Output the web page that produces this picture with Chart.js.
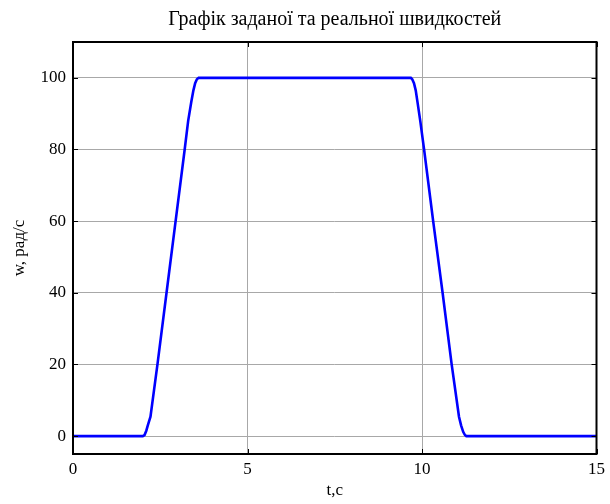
<!DOCTYPE html>
<html>
<head>
<meta charset="utf-8">
<script src="https://cdn.jsdelivr.net/npm/chart.js@4/dist/chart.umd.min.js"></script>
<style>
  html, body { margin: 0; padding: 0; background: #fff; }
  #wrap { width: 610px; height: 504px; }
</style>
</head>
<body>
<div id="wrap"><canvas id="chart" width="610" height="504"></canvas></div>
<script>
'use strict';

const timeValues  = [0, 1, 2.0, 2.05, 2.1, 2.15, 2.22, 2.42, 2.68, 2.94, 3.2, 3.3, 3.39, 3.45, 3.5, 3.55, 3.6,
                     5, 7, 9, 9.68, 9.72, 9.77, 9.82, 9.87, 9.95, 10.06, 10.32, 10.59, 10.85, 11.06, 11.12, 11.18, 11.23, 11.27, 12, 15];
const speedValues = [0, 0, 0, 0.3, 1.5, 3.2, 5.4, 20, 40, 60, 80, 88, 93.3, 96.5, 98.5, 99.6, 100,
                     100, 100, 100, 100, 99.6, 98.5, 96.5, 93.3, 88, 80, 60, 40, 20, 5.4, 3, 1.2, 0.3, 0, 0, 0];
const xTicks = [0, 5, 10, 15];
const yTicks = [0, 20, 40, 60, 80, 100];

const serif = "'Liberation Serif', 'Times New Roman', serif";

// MATLAB-style box with inward ticks on every side
const boxPlugin = {
  id: 'box',
  afterDraw(chart) {
    const ctx = chart.ctx;
    const a = chart.chartArea;
    const xs = chart.scales.x;
    const ys = chart.scales.y;
    const len = 5;
    ctx.save();
    ctx.strokeStyle = '#000';
    ctx.lineWidth = 1;
    ctx.beginPath();
    xTicks.forEach(v => {
      const px = Math.round(xs.getPixelForValue(v)) + 0.5;
      ctx.moveTo(px, a.bottom); ctx.lineTo(px, a.bottom - len);
      ctx.moveTo(px, a.top); ctx.lineTo(px, a.top + len);
    });
    yTicks.forEach(v => {
      const py = Math.round(ys.getPixelForValue(v)) + 0.5;
      ctx.moveTo(a.left, py); ctx.lineTo(a.left + len, py);
      ctx.moveTo(a.right, py); ctx.lineTo(a.right - len, py);
    });
    ctx.stroke();
    ctx.lineWidth = 2;
    ctx.strokeRect(a.left, a.top, a.right - a.left, a.bottom - a.top);
    ctx.restore();
  }
};

function onContentLoad() {
  const canvas = document.getElementById('chart');
  const points = timeValues.map((t, i) => ({ x: t, y: speedValues[i] }));

  new Chart(canvas.getContext('2d'), {
    type: 'line',
    data: {
      datasets: [{
        data: points,
        borderColor: '#0000ff',
        borderWidth: 2.6,
        pointRadius: 0,
        tension: 0,
        fill: false,
      }],
    },
    options: {
      responsive: false,
      animation: false,
      devicePixelRatio: 1,
      layout: { padding: { left: 0, right: 12, top: 0, bottom: 0 } },
      plugins: {
        legend: { display: false },
        tooltip: { enabled: false },
      },
      scales: {
        x: {
          type: 'linear',
          min: 0,
          max: 15,
          afterBuildTicks(scale) { scale.ticks = xTicks.map(v => ({ value: v })); },
          afterFit(scale) { scale.height = 50; },
          ticks: {
            color: '#000',
            font: { family: serif, size: 17 },
            padding: 5,
            maxRotation: 0,
          },
          grid: { color: '#a8a8a8', lineWidth: 1, drawTicks: false },
          border: { display: false },
          title: {
            display: true,
            text: 't,c',
            color: '#000',
            font: { family: serif, size: 17 },
            padding: { top: 0, bottom: 3 },
          },
        },
        // top axis only carries the title, so it is centred over the plot box
        top: {
          type: 'linear',
          position: 'top',
          min: 0,
          max: 15,
          afterFit(scale) { scale.height = 42; },
          ticks: { display: false },
          grid: { display: false },
          border: { display: false },
          title: {
            display: true,
            text: 'Графік заданої та реальної швидкостей',
            color: '#000',
            font: { family: serif, size: 20 },
            padding: { top: 8, bottom: 0 },
          },
        },
        y: {
          type: 'linear',
          min: -5,
          max: 110,
          afterBuildTicks(scale) { scale.ticks = yTicks.map(v => ({ value: v })); },
          afterFit(scale) { scale.width = 73; },
          ticks: {
            color: '#000',
            font: { family: serif, size: 17 },
            padding: 7,
          },
          grid: { color: '#a8a8a8', lineWidth: 1, drawTicks: false },
          border: { display: false },
          title: {
            display: true,
            text: 'w, рад/с',
            color: '#000',
            font: { family: serif, size: 17 },
            padding: { top: 9, bottom: 0 },
          },
        },
      },
    },
    plugins: [boxPlugin],
  });
}

document.addEventListener('DOMContentLoaded', onContentLoad);
</script>
</body>
</html>
